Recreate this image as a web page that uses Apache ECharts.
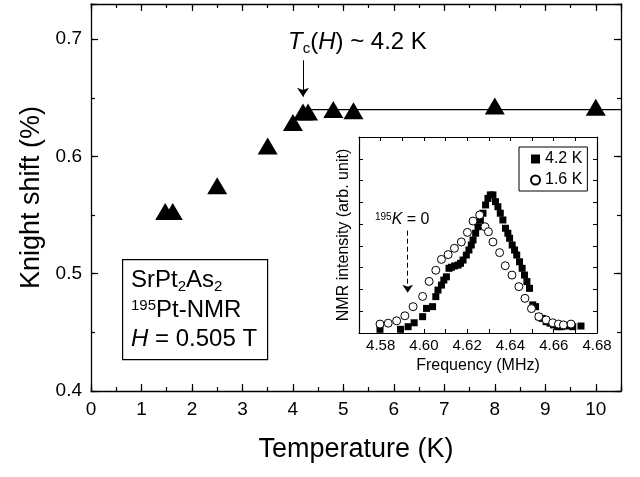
<!DOCTYPE html>
<html>
<head>
<meta charset="utf-8">
<script src="https://cdn.jsdelivr.net/npm/echarts@6/dist/echarts.min.js"></script>
<style>
html, body { margin: 0; padding: 0; background: #fff; }
#chart { width: 640px; height: 477px; }
</style>
</head>
<body>
<div id="chart"></div>
<script>
// ---- main panel: Knight shift vs temperature ----
var temperature = [1.47, 1.62, 2.5, 3.5, 4.0, 4.2, 4.3, 4.8, 5.2, 8.0, 10.0];
var knightShift = [0.553, 0.553, 0.575, 0.609, 0.629, 0.638, 0.638, 0.640, 0.639, 0.643, 0.642];
var normalLineT = [4.15, 10.5];
var normalLineK = [0.64, 0.64];
var tcArrowT = 4.2;
var tcArrowK = [0.682, 0.651];

// ---- inset: NMR spectra ----
var freq42 = [4.5797, 4.5892, 4.5927, 4.5955, 4.5994, 4.6012, 4.6040, 4.6055, 4.6065, 4.6081,
              4.6092, 4.6104, 4.6116, 4.6127, 4.6142, 4.6158, 4.6169, 4.6181, 4.6196, 4.6208,
              4.6219, 4.6227, 4.6239, 4.6250, 4.6261, 4.6273, 4.6285, 4.6296, 4.6307, 4.6319,
              4.6331, 4.6342, 4.6353, 4.6365, 4.6377, 4.6388, 4.6396, 4.6408, 4.6419, 4.6429,
              4.6442, 4.6454, 4.6465, 4.6476, 4.6488, 4.6503, 4.6516, 4.6531, 4.6547, 4.6565,
              4.6583, 4.6599, 4.6618, 4.6634, 4.6657, 4.6688, 4.6726];
var int42  = [0.017, 0.017, 0.029, 0.047, 0.075, 0.113, 0.121, 0.167, 0.197, 0.220,
              0.243, 0.258, 0.297, 0.302, 0.308, 0.312, 0.320, 0.335, 0.358, 0.381,
              0.404, 0.427, 0.458, 0.488, 0.519, 0.550, 0.588, 0.618, 0.634, 0.634,
              0.603, 0.580, 0.550, 0.519, 0.481, 0.458, 0.435, 0.404, 0.381, 0.358,
              0.327, 0.297, 0.266, 0.236, 0.205, 0.129, 0.121, 0.075, 0.067, 0.052,
              0.045, 0.037, 0.029, 0.029, 0.032, 0.029, 0.032];
var freq16 = [4.5797, 4.5835, 4.5874, 4.5912, 4.5950, 4.5994, 4.6024, 4.6055, 4.6081, 4.6112,
              4.6141, 4.6173, 4.6201, 4.6227, 4.6258, 4.6282, 4.6298, 4.6319, 4.6350, 4.6376,
              4.6407, 4.6439, 4.6467, 4.6497, 4.6531, 4.6565, 4.6595, 4.6622, 4.6645, 4.6680];
var int16  = [0.041, 0.045, 0.056, 0.079, 0.121, 0.168, 0.237, 0.288, 0.338, 0.360,
              0.389, 0.418, 0.462, 0.514, 0.542, 0.488, 0.465, 0.418, 0.369, 0.309,
              0.266, 0.213, 0.159, 0.112, 0.075, 0.060, 0.047, 0.041, 0.037, 0.041];
var zeroShiftFreq = 4.5925;
var zeroArrowInt = [0.47, 0.185];

var FONT = "'Liberation Sans', Arial, Helvetica, sans-serif";

function zip(xs, ys) {
    return xs.map(function (x, i) { return [x, ys[i]]; });
}

function frameAxis(gridIndex, position, extra) {
    var a = {
        type: 'value',
        gridIndex: gridIndex,
        position: position,
        axisLine: { show: true, onZero: false, lineStyle: { color: '#000', width: 1.3 } },
        axisTick: { show: true, inside: true, length: 7, lineStyle: { color: '#000', width: 1.2 } },
        axisLabel: { show: false },
        splitLine: { show: false }
    };
    return Object.assign(a, extra);
}

var minorTick = { show: true, inside: true, length: 4, lineStyle: { color: '#000', width: 1.2 } };
var noLine = { show: false, onZero: false };
var nameStyle = { color: '#000', fontSize: 27, fontFamily: FONT };
var insetTick = { show: true, inside: true, length: 4, lineStyle: { color: '#000', width: 1 } };
var insetLine = { show: true, onZero: false, lineStyle: { color: '#000', width: 1.2 } };

var mainX = { min: 0, max: 10.5, interval: 1 };
var mainY = { min: 0.4, max: 0.73, interval: 0.1 };

var xAxes = [
    frameAxis(0, 'bottom', Object.assign({}, mainX, {
        axisLabel: {
            show: true, color: '#000', fontSize: 19, fontFamily: FONT, margin: 9,
            formatter: function (v) { return Math.abs(v - Math.round(v)) < 1e-6 ? String(Math.round(v)) : ''; }
        },
        name: 'Temperature (K)', nameLocation: 'middle', nameGap: 45, nameTextStyle: nameStyle
    })),
    frameAxis(0, 'top', Object.assign({}, mainX)),
    frameAxis(0, 'bottom', { min: 0, max: 10.5, interval: 0.5, axisLine: noLine, axisTick: minorTick }),
    frameAxis(0, 'top', { min: 0, max: 10.5, interval: 0.5, axisLine: noLine, axisTick: minorTick }),
    frameAxis(1, 'bottom', {
        min: 4.57, max: 4.68, interval: 0.01, axisLine: insetLine, axisTick: insetTick,
        axisLabel: {
            show: true, color: '#000', fontSize: 15, fontFamily: FONT, margin: 5, showMaxLabel: true,
            formatter: function (v) { return Math.round(v * 100) % 2 === 0 ? v.toFixed(2) : ''; }
        },
        name: 'Frequency (MHz)', nameLocation: 'middle', nameGap: 25,
        nameTextStyle: { color: '#000', fontSize: 16, fontFamily: FONT }
    }),
    frameAxis(1, 'top', { min: 4.57, max: 4.68, interval: 0.01, axisLine: insetLine, axisTick: insetTick })
];

var yAxes = [
    frameAxis(0, 'left', Object.assign({}, mainY, {
        axisLabel: {
            show: true, color: '#000', fontSize: 19, fontFamily: FONT, margin: 9,
            formatter: function (v) { return Math.round(v * 100) % 10 === 0 ? v.toFixed(1) : ''; }
        },
        name: 'Knight shift (%)', nameLocation: 'middle', nameGap: 44, nameRotate: 90, nameTextStyle: nameStyle
    })),
    frameAxis(0, 'right', Object.assign({}, mainY)),
    frameAxis(0, 'left', { min: 0.4, max: 0.73, interval: 0.05, axisLine: noLine, axisTick: minorTick }),
    frameAxis(0, 'right', { min: 0.4, max: 0.73, interval: 0.05, axisLine: noLine, axisTick: minorTick }),
    frameAxis(1, 'left', {
        min: 0, max: 0.9, interval: 0.1, axisLine: insetLine, axisTick: insetTick,
        name: 'NMR intensity (arb. unit)', nameLocation: 'middle', nameGap: 7, nameRotate: 90,
        nameTextStyle: { color: '#000', fontSize: 16, fontFamily: FONT }
    }),
    frameAxis(1, 'right', { min: 0, max: 0.9, interval: 0.1, axisLine: insetLine, axisTick: insetTick })
];

// sub/superscripts: top padding pushes the subscript digits below the baseline
var rich = {
    n: { fontSize: 24, fontFamily: FONT, color: '#000' },
    i: { fontSize: 24, fontStyle: 'italic', fontFamily: FONT, color: '#000' },
    sub: { fontSize: 15, fontFamily: FONT, color: '#000', verticalAlign: 'top', padding: [14, 0, 0, 0] },
    sup: { fontSize: 15, fontFamily: FONT, color: '#000', verticalAlign: 'top', lineHeight: 10 }
};
var richSmall = {
    i: { fontSize: 16, fontStyle: 'italic', fontFamily: FONT, color: '#000' },
    sup: { fontSize: 10, fontFamily: FONT, color: '#000', verticalAlign: 'top', lineHeight: 6 }
};

function label(x, y, text, size, r) {
    return {
        type: 'text', left: x, top: y - size / 2 - 2, silent: true,
        style: { text: text, fontSize: size, fontFamily: FONT, fill: '#000', rich: r }
    };
}

var chart = echarts.init(document.getElementById('chart'));
chart.setOption({
    animation: false,
    backgroundColor: '#fff',
    grid: [
        { left: 91, top: 4, width: 530, height: 387 },
        { left: 359, top: 137, width: 238, height: 196, show: true, backgroundColor: '#fff', borderWidth: 0 }
    ],
    xAxis: xAxes,
    yAxis: yAxes,
    legend: {
        data: ['4.2 K', '1.6 K'],
        orient: 'vertical',
        left: 519, top: 147,
        borderColor: '#000', borderWidth: 1, borderRadius: 0,
        padding: [4, 5, 3, 11],
        itemWidth: 9, itemHeight: 9, itemGap: 5,
        textStyle: { color: '#000', fontSize: 16, fontFamily: FONT }
    },
    series: [
        {
            type: 'scatter', xAxisIndex: 0, yAxisIndex: 0,
            data: zip(temperature, knightShift),
            symbol: 'triangle', symbolSize: [20, 17],
            itemStyle: { color: '#000', opacity: 1 }
        },
        {
            type: 'line', xAxisIndex: 0, yAxisIndex: 0,
            data: zip(normalLineT, normalLineK),
            showSymbol: false, silent: true,
            lineStyle: { color: '#000', width: 1.2 },
            markLine: {
                silent: true, symbol: ['none', 'arrow'], symbolSize: 9,
                label: { show: false },
                lineStyle: { color: '#000', width: 1, type: 'solid' },
                data: [[{ coord: [tcArrowT, tcArrowK[0]] }, { coord: [tcArrowT, tcArrowK[1]] }]]
            }
        },
        {
            name: '4.2 K', type: 'scatter', xAxisIndex: 4, yAxisIndex: 4,
            data: zip(freq42, int42),
            symbol: 'rect', symbolSize: 7,
            itemStyle: { color: '#000', opacity: 1 }
        },
        {
            name: '1.6 K', type: 'scatter', xAxisIndex: 4, yAxisIndex: 4,
            data: zip(freq16, int16),
            symbol: 'circle', symbolSize: 8,
            itemStyle: { color: '#fff', borderColor: '#000', borderWidth: 1, opacity: 1 },
            markLine: {
                silent: true, symbol: ['none', 'arrow'], symbolSize: 8,
                label: { show: false },
                lineStyle: { color: '#000', width: 1, type: [5, 3] },
                data: [[{ coord: [zeroShiftFreq, zeroArrowInt[0]] }, { coord: [zeroShiftFreq, zeroArrowInt[1]] }]]
            }
        }
    ],
    graphic: [
        {
            type: 'rect', left: 122, top: 259, silent: true,
            shape: { width: 145, height: 100 },
            style: { fill: '#fff', stroke: '#000', lineWidth: 1.2 }
        },
        label(131, 282, '{n|SrPt}{sub|2}{n|As}{sub|2}', 24, rich),
        label(131, 312, '{sup|195}{n|Pt-NMR}', 24, rich),
        label(131, 341, '{i|H}{n| = 0.505 T}', 24, rich),
        label(288, 44, '{i|T}{sub|c}{n|(}{i|H}{n|) ~ 4.2 K}', 24, rich),
        label(375, 222, '{sup|195}{i|K} = 0', 16, richSmall)
    ]
});
</script>
</body>
</html>
